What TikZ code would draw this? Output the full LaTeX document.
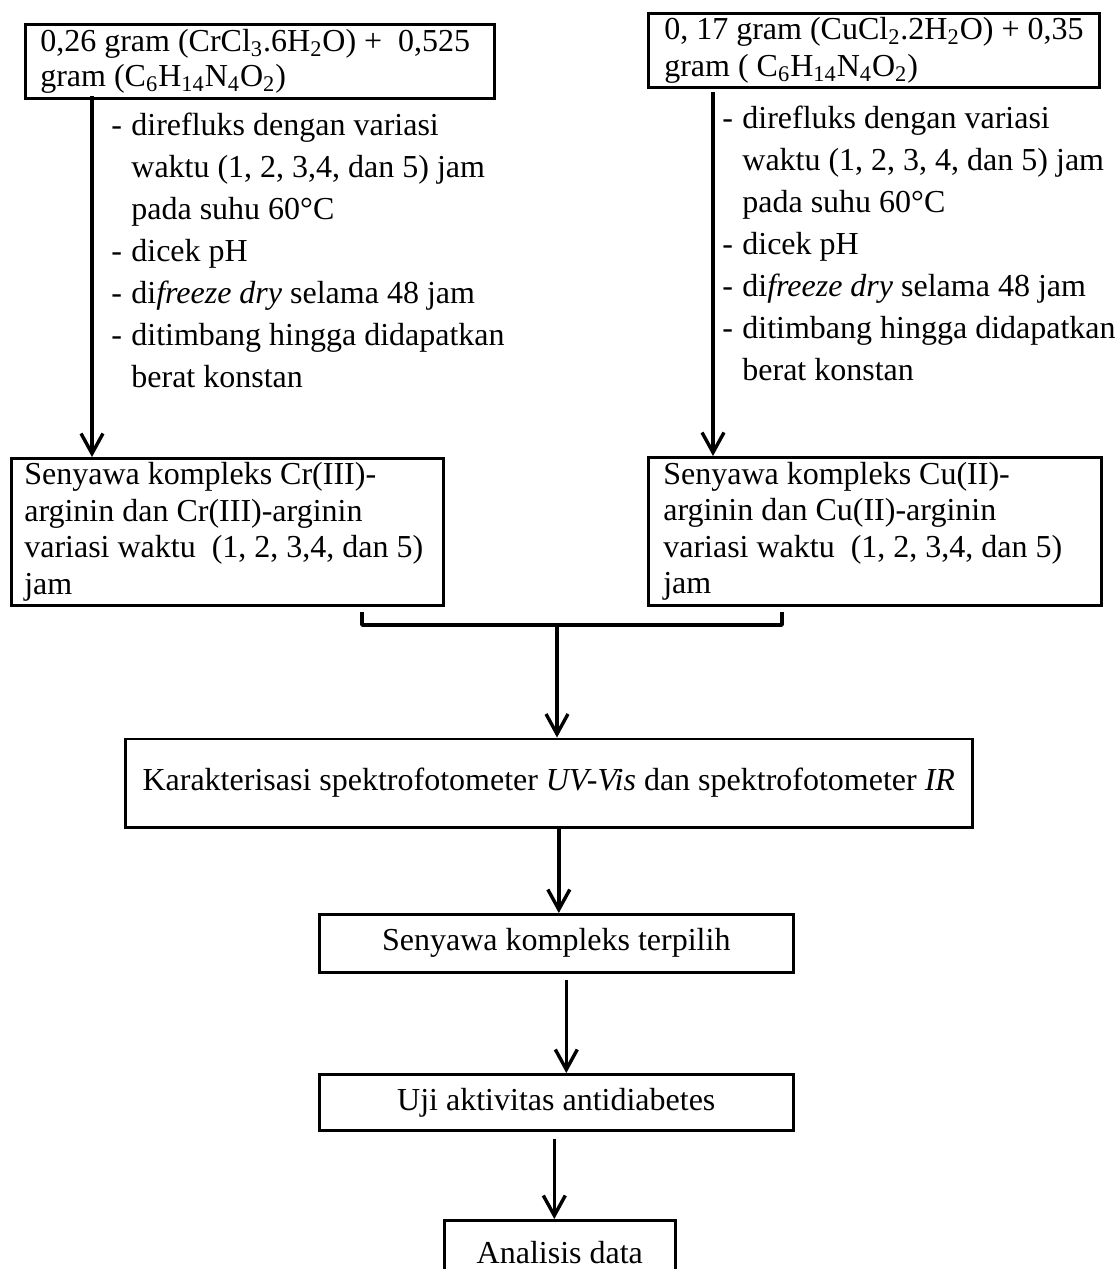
\documentclass[tikz,border=0pt]{standalone}
\usepackage{fontspec}
\setmainfont{Liberation Serif}
\usetikzlibrary{arrows.meta,calc}
\newcommand\bxpad[1]{\hspace*{#1}}
\newcommand\lstitem{\makebox[10pt][l]{-}}
\newcommand\lstcont{\hspace*{10pt}}
\begin{document}
\begin{tikzpicture}[x=0.5pt,y=-0.5pt,
  box/.style={draw, line width=1.3pt, inner sep=0pt, anchor=north west},
  lbox/.style={box, align=flush left, font=\fontsize{16pt}{18pt}\selectfont},
  cbox/.style={box, align=center, font=\fontsize{16pt}{18pt}\selectfont},
  lst/.style={inner sep=0pt, align=left, anchor=north west, font=\fontsize{16pt}{21pt}\selectfont},
  conn/.style={line width=1.7pt, line join=round},
  arr/.style={conn, -{Straight Barb[length=10pt,width=11pt]}}
]
\useasboundingbox (0,0) rectangle (1119,1269);

% top boxes
\node[lbox, text width=234.5pt, minimum height=37pt, font=\fontsize{16pt}{17.5pt}\selectfont] (A) at (24,23)
  {\bxpad{7.5pt}0,26 gram (CrCl\textsubscript{3}.6H\textsubscript{2}O) +\ \ 0,525\\
   \bxpad{7.5pt}gram (C\textsubscript{6}H\textsubscript{14}N\textsubscript{4}O\textsubscript{2})};
\node[lbox, text width=225.5pt, minimum height=37pt, font=\fontsize{16pt}{18.5pt}\selectfont] (C) at (647,12)
  {\bxpad{8pt}0, 17 gram (CuCl\textsubscript{2}.2H\textsubscript{2}O) + 0,35\\
   \bxpad{8pt}gram ( C\textsubscript{6}H\textsubscript{14}N\textsubscript{4}O\textsubscript{2})};

% process lists
\node[lst] (L) at (111,113)
  {\lstitem direfluks dengan variasi\\
   \lstcont waktu (1, 2, 3,4, dan 5) jam\\
   \lstcont pada suhu 60°C\\
   \lstitem dicek pH\\
   \lstitem di\textit{freeze dry} selama 48 jam\\
   \lstitem ditimbang hingga didapatkan\\
   \lstcont berat konstan};
\node[lst] (R) at (722,106)
  {\lstitem direfluks dengan variasi\\
   \lstcont waktu (1, 2, 3, 4, dan 5) jam\\
   \lstcont pada suhu 60°C\\
   \lstitem dicek pH\\
   \lstitem di\textit{freeze dry} selama 48 jam\\
   \lstitem ditimbang hingga didapatkan\\
   \lstcont berat konstan};

% product boxes
\node[lbox, text width=216pt, minimum height=73.5pt, font=\fontsize{16pt}{18.3pt}\selectfont] (B) at (10,457)
  {\bxpad{6.5pt}Senyawa kompleks Cr(III)-\\
   \bxpad{6.5pt}arginin dan Cr(III)-arginin\\
   \bxpad{6.5pt}variasi waktu\ \ (1, 2, 3,4, dan 5)\\
   \bxpad{6.5pt}jam};
\node[lbox, text width=226.5pt, minimum height=74pt, font=\fontsize{16pt}{18.3pt}\selectfont] (D) at (647,456)
  {\bxpad{7.5pt}Senyawa kompleks Cu(II)-\\
   \bxpad{7.5pt}arginin dan Cu(II)-arginin\\
   \bxpad{7.5pt}variasi waktu\ \ (1, 2, 3,4, dan 5)\\
   \bxpad{7.5pt}jam};

% lower chain
\node[cbox, minimum width=423.5pt, minimum height=44.25pt] (E) at (124,737.5)
  {Karakterisasi spektrofotometer \textit{UV-Vis} dan spektrofotometer \textit{IR}};
\node[cbox, minimum width=237pt, minimum height=29pt] (F) at (318,913)
  {Senyawa kompleks terpilih};
\node[cbox, minimum width=237pt, minimum height=28pt] (G) at (318,1073)
  {Uji aktivitas antidiabetes};
\node[cbox, minimum width=115.5pt, minimum height=32pt] (H) at (443,1219)
  {Analisis data};

% connectors
\coordinate (a1) at (92,96);
\draw[arr] (a1) -- (a1 |- B.north);
\coordinate (c1) at (713,92);
\draw[arr] (c1) -- (c1 |- D.north);

\coordinate (bl) at (362,612);
\coordinate (br) at (782,612);
\coordinate (bm) at (557,625);
\draw[conn] (bl) |- (bm) -| (br);
\draw[arr] (bm) -- (bm |- E.north);

\coordinate (e1) at ($(E.south)+(10,0)$);
\draw[arr] (e1) -- (e1 |- F.north);
\coordinate (f1) at ($(F.south)+(10,6)$);
\draw[arr] (f1) -- (f1 |- G.north);
\coordinate (g1) at ($(G.south)+(-2,7)$);
\draw[arr] (g1) -- (g1 |- H.north);
\end{tikzpicture}
\end{document}
